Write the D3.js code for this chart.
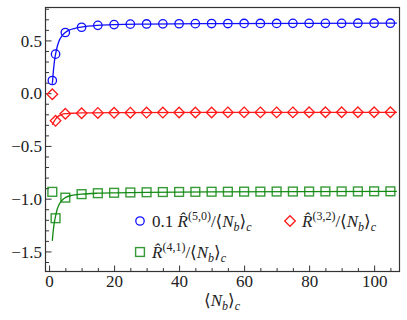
<!DOCTYPE html>
<html>
<head>
<meta charset="utf-8">
<script src="https://d3js.org/d3.v7.min.js"></script>
<style>
  body { margin: 0; background: #fff; }
  svg { display: block; }
</style>
</head>
<body>
<svg id="chart" width="407" height="320"></svg>
<script>
// sample points (markers)
const nbVals = [1, 2, 5, 10, 15, 20, 25, 30, 35, 40, 45, 50, 55, 60, 65, 70, 75, 80, 85, 90, 95, 100, 105];
const r50Pts = [0.12, 0.37, 0.575, 0.625, 0.643, 0.650, 0.654, 0.656, 0.657, 0.658, 0.659, 0.660, 0.660, 0.661, 0.661, 0.661, 0.662, 0.662, 0.662, 0.662, 0.663, 0.663, 0.663];
const r32Pts = [-0.01, -0.262, -0.195, -0.19, -0.187, -0.186, -0.185, -0.184, -0.184, -0.183, -0.183, -0.183, -0.182, -0.182, -0.182, -0.182, -0.182, -0.181, -0.181, -0.181, -0.181, -0.181, -0.181];
const r41Pts = [-0.935, -1.185, -0.99, -0.957, -0.948, -0.944, -0.941, -0.939, -0.937, -0.936, -0.935, -0.934, -0.934, -0.933, -0.933, -0.932, -0.932, -0.932, -0.931, -0.931, -0.931, -0.930, -0.930];

// continuous curves
const r50CurveX = [1, 1.3, 1.6, 2, 2.5, 3, 4, 5, 6, 8, 10, 15, 20, 30, 50, 80, 107];
const r50CurveY = [0.09, 0.2, 0.29, 0.37, 0.44, 0.49, 0.545, 0.575, 0.595, 0.615, 0.627, 0.643, 0.650, 0.655, 0.659, 0.662, 0.663];
const r32CurveX = [1, 1.5, 2, 3, 4, 5, 7, 10, 20, 50, 107];
const r32CurveY = [-0.30, -0.27, -0.245, -0.215, -0.2, -0.194, -0.19, -0.187, -0.184, -0.182, -0.181];
const r41CurveX = [1, 1.3, 1.6, 2, 2.5, 3, 4, 5, 7, 10, 15, 20, 30, 50, 107];
const r41CurveY = [-1.40, -1.30, -1.23, -1.165, -1.10, -1.06, -1.015, -0.99, -0.968, -0.957, -0.948, -0.944, -0.94, -0.935, -0.93];

const xMajor = [0, 20, 40, 60, 80, 100];
const yMajor = [-1.5, -1.0, -0.5, 0.0, 0.5];

const FONT = '"Liberation Serif", "DejaVu Serif", serif';

const svg = d3.select('#chart');
const mLeft = 45.5, mRight = 399.5, mTop = 7.5, mBottom = 271.5;

const x = d3.scaleLinear().domain([-1.1, 107.8]).range([mLeft, mRight]);
const y = d3.scaleLinear().domain([-1.69, 0.812]).range([mBottom, mTop]);

const fmtY = d => (d < 0 ? '\u2212' : '') + Math.abs(d).toFixed(1);

// axes with inward ticks
const xMinor = d3.range(0, 106, 5).filter(v => !xMajor.includes(v));
const yMinor = d3.range(-16, 9, 1).map(v => v / 10).filter(v => !yMajor.some(m => Math.abs(m - v) < 1e-9));

const gx = svg.append('g').attr('transform', `translate(0,${mBottom})`);
gx.call(d3.axisBottom(x).tickValues(xMajor).tickSizeInner(-6).tickSizeOuter(0).tickPadding(3).tickFormat(d3.format('d')));
gx.append('g').call(d3.axisBottom(x).tickValues(xMinor).tickSizeInner(-3.5).tickSizeOuter(0).tickFormat(''));

const gy = svg.append('g').attr('transform', `translate(${mLeft},0)`);
gy.call(d3.axisLeft(y).tickValues(yMajor).tickSizeInner(-6).tickSizeOuter(0).tickPadding(3.5).tickFormat(fmtY));
gy.append('g').call(d3.axisLeft(y).tickValues(yMinor).tickSizeInner(-3.5).tickSizeOuter(0).tickFormat(''));

svg.selectAll('.domain').remove();
svg.selectAll('.tick line').attr('stroke', '#333').attr('stroke-width', 1);
svg.selectAll('.tick text')
  .attr('font-family', FONT).attr('font-size', 17).attr('fill', '#222');
gx.selectAll('.tick text').attr('dy', '0.72em');
gy.selectAll('.tick text').attr('dy', '0.33em');

// frame
svg.append('rect')
  .attr('x', mLeft).attr('y', mTop)
  .attr('width', mRight - mLeft).attr('height', mBottom - mTop)
  .attr('fill', 'none').attr('stroke', '#333').attr('stroke-width', 1.2);

const line = d3.line().x(d => x(d[0])).y(d => y(d[1])).curve(d3.curveMonotoneX);

const series = [
  { cx: r50CurveX, cy: r50CurveY, pts: r50Pts, color: '#1010ff', shape: 'circle' },
  { cx: r32CurveX, cy: r32CurveY, pts: r32Pts, color: '#ff1a1a', shape: 'diamond' },
  { cx: r41CurveX, cy: r41CurveY, pts: r41Pts, color: '#138a13', shape: 'square' }
];

function drawMarker(g, shape, px, py, color) {
  if (shape === 'circle') {
    g.append('circle').attr('cx', px).attr('cy', py).attr('r', 4.2)
      .attr('fill', 'none').attr('stroke', color).attr('stroke-width', 1.3);
  } else if (shape === 'diamond') {
    const s = 5.3;
    g.append('path').attr('d', `M${px},${py - s}L${px + s},${py}L${px},${py + s}L${px - s},${py}Z`)
      .attr('fill', 'none').attr('stroke', color).attr('stroke-width', 1.3);
  } else {
    const s = 4.4;
    g.append('rect').attr('x', px - s).attr('y', py - s).attr('width', 2 * s).attr('height', 2 * s)
      .attr('fill', 'none').attr('stroke', color).attr('stroke-width', 1.4).attr('stroke-opacity', 0.85);
  }
}

series.forEach(s => {
  svg.append('path')
    .datum(s.cx.map((v, i) => [v, s.cy[i]]))
    .attr('d', line)
    .attr('fill', 'none').attr('stroke', s.color).attr('stroke-width', 1.3);
  const g = svg.append('g');
  nbVals.forEach((v, i) => drawMarker(g, s.shape, x(v), y(s.pts[i]), s.color));
});

// math-ish label: pieces of [text, italic, shift]
function mathText(px, py, parts, anchor) {
  const t = svg.append('text').attr('x', px).attr('y', py)
    .attr('font-family', FONT).attr('font-size', 17).attr('fill', '#222')
    .attr('text-anchor', anchor || 'start');
  let cur = 0;
  parts.forEach(([str, ital, shift]) => {
    const sp = t.append('tspan').text(str).attr('dy', shift - cur);
    if (ital) sp.attr('font-style', 'italic');
    if (shift !== 0) sp.attr('font-size', 12);
    cur = shift;
  });
  return t;
}

function ratioParts(prefix, sup) {
  const p = [];
  if (prefix) p.push([prefix, false, 0]);
  p.push(['R\u0302', true, 0], [sup, false, -7], ['/\u27E8', false, 0],
         ['N', true, 0], ['b', true, 4], ['\u27E9', false, 0], ['c', true, 4]);
  return p;
}

const lg = svg.append('g');
drawMarker(lg, 'circle', 140, 221, series[0].color);
mathText(152, 227, ratioParts('0.1 ', '(5,0)'));
drawMarker(lg, 'diamond', 290, 221, series[1].color);
mathText(302, 227, ratioParts('', '(3,2)'));
drawMarker(lg, 'square', 140, 252, series[2].color);
mathText(152, 258, ratioParts('', '(4,1)'));

// x-axis title
mathText(222, 306, [['\u27E8', false, 0], ['N', true, 0], ['b', true, 4], ['\u27E9', false, 0], ['c', true, 4]], 'middle');
</script>
</body>
</html>
